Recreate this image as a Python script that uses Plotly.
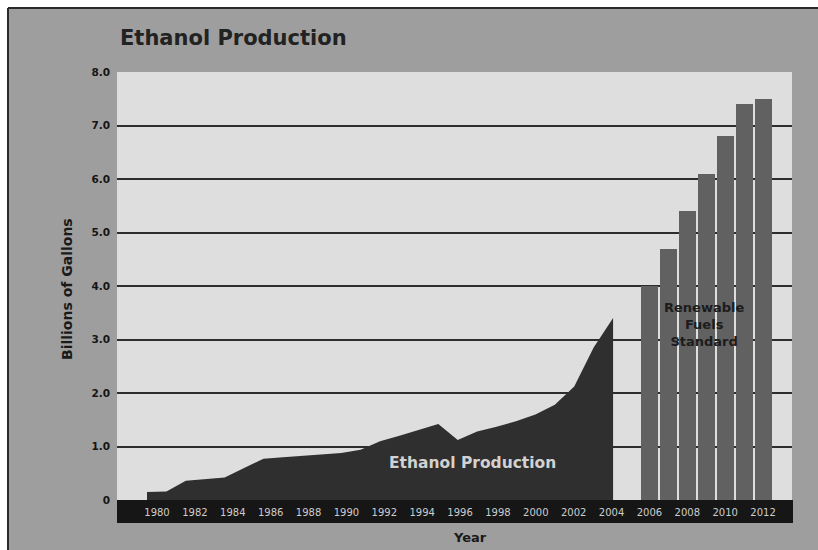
import plotly.graph_objects as go

# ---------------- data ----------------
area_years = list(range(1980, 2005))
area_values = [0.15, 0.16, 0.36, 0.39, 0.42, 0.60, 0.77, 0.80, 0.83, 0.86,
               0.88, 0.94, 1.10, 1.20, 1.31, 1.42, 1.12, 1.28, 1.37, 1.47,
               1.60, 1.78, 2.12, 2.85, 3.40]
rfs_years = [2006, 2007, 2008, 2009, 2010, 2011, 2012]
rfs_values = [4.0, 4.7, 5.4, 6.1, 6.8, 7.4, 7.5]
x_tick_years = list(range(1980, 2013, 2))
x_tick_labels = [str(y) for y in x_tick_years]
y_tick_values = [0, 1, 2, 3, 4, 5, 6, 7, 8]
y_tick_labels = ["0", "1.0", "2.0", "3.0", "4.0", "5.0", "6.0", "7.0", "8.0"]

title_text = "Ethanol Production"
y_title = "Billions of Gallons"
x_title = "Year"
area_label = "Ethanol Production"
rfs_label_lines = ["Renewable", "Fuels", "Standard"]

# ---------------- layout geometry (pixels) ----------------
W, H = 818, 550
L, R, T, B = 117, 792, 72, 500


def px(x):
    return (x - L) / (R - L)


def py(y):
    return (B - y) / (B - T)


FONT = "DejaVu Sans"

fig = go.Figure()

fig.add_trace(go.Scatter(
    x=area_years, y=area_values, xaxis="x2", yaxis="y",
    mode="lines", fill="tozeroy",
    line=dict(width=0, color="#2f2f2f"), fillcolor="#2f2f2f",
    hoverinfo="skip", showlegend=False,
))

fig.add_trace(go.Bar(
    x=rfs_years, y=rfs_values, width=0.9,
    marker=dict(color="#616161", line=dict(width=0)),
    showlegend=False,
))

shapes = [
    # gray frame
    dict(type="rect", xref="paper", yref="paper", layer="below",
         x0=px(8), x1=px(840), y0=py(570), y1=py(8),
         fillcolor="#9e9e9e", line=dict(width=0)),
    dict(type="line", xref="paper", yref="paper", layer="below",
         x0=px(8), x1=px(840), y0=py(8), y1=py(8),
         line=dict(color="#2a2a2a", width=2)),
    dict(type="line", xref="paper", yref="paper", layer="below",
         x0=px(8), x1=px(8), y0=py(8), y1=py(570),
         line=dict(color="#2a2a2a", width=2)),
    # light plot area
    dict(type="rect", xref="paper", yref="paper", layer="below",
         x0=px(117), x1=px(792), y0=py(500), y1=py(72),
         fillcolor="#dedede", line=dict(width=0)),
    # dark axis band
    dict(type="rect", xref="paper", yref="paper", layer="below",
         x0=px(117), x1=px(793), y0=py(523), y1=py(500),
         fillcolor="#161616", line=dict(width=0)),
]

annotations = [
    dict(text=y_title, xref="paper", yref="paper", x=px(67), y=py(289),
         textangle=-90, showarrow=False, xanchor="center", yanchor="middle",
         font=dict(family=FONT, size=14, weight="bold", color="#1a1a1a")),
    dict(text=x_title, xref="paper", yref="paper", x=px(470), y=py(537),
         showarrow=False, xanchor="center", yanchor="middle",
         font=dict(family=FONT, size=13, weight="bold", color="#1a1a1a")),
    dict(text=area_label, xref="paper", yref="paper", x=px(472), y=py(463),
         showarrow=False, xanchor="center", yanchor="middle",
         font=dict(family=FONT, size=15.5, weight="bold", color="#d2d2d2")),
    dict(text="<br>".join(rfs_label_lines), xref="paper", yref="paper",
         x=px(704), y=py(324), showarrow=False, align="center",
         xanchor="center", yanchor="middle",
         font=dict(family=FONT, size=13, weight="bold", color="#1c1c1c")),
]

fig.update_layout(
    width=W, height=H,
    margin=dict(l=L, r=W - R, t=T, b=H - B, autoexpand=False),
    paper_bgcolor="#ffffff",
    plot_bgcolor="rgba(0,0,0,0)",
    showlegend=False,
    bargap=0,
    title=dict(text=title_text, xref="paper", x=px(120), xanchor="left",
               yref="container", y=1 - 38 / H, yanchor="middle",
               font=dict(family=FONT, size=21, weight="bold", color="#222222")),
    xaxis=dict(range=[1977.888, 2013.527], tickvals=x_tick_years,
               ticktext=x_tick_labels, showgrid=False, zeroline=False,
               showline=False, ticks="", ticklabelstandoff=5,
               automargin=False,
               tickfont=dict(family=FONT, size=10, color="#cdcdcd")),
    xaxis2=dict(range=[1978.455, 2013.213], overlaying="x", visible=False),
    yaxis=dict(range=[0, 8], tickvals=y_tick_values, ticktext=y_tick_labels,
               showgrid=True, gridcolor="#2d2d2d", gridwidth=2,
               zeroline=False, showline=False, ticks="",
               ticklabelstandoff=6, automargin=False,
               tickfont=dict(family=FONT, size=10.5, weight="bold",
                             color="#151515")),
    shapes=shapes,
    annotations=annotations,
)

fig.write_html("out.html")
